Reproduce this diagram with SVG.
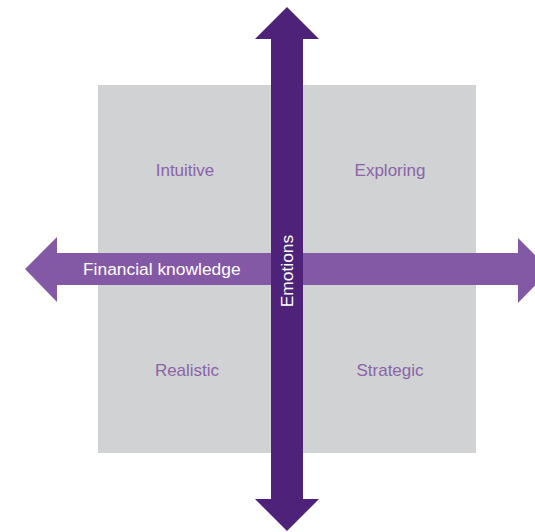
<svg xmlns="http://www.w3.org/2000/svg" width="535" height="532" viewBox="0 0 535 532">
<style>
.q{font-family:"Liberation Sans",Arial,sans-serif;font-size:17px;fill:#8a64a8;text-anchor:middle}
.w{font-family:"Liberation Sans",Arial,sans-serif;font-size:17.4px;fill:#ffffff}
</style>
<rect width="535" height="532" fill="#ffffff"/>
<g id="grid"><rect x="98" y="85" width="378" height="368" fill="#d1d2d4"/></g>
<g id="q-intuitive"><text class="q" x="185" y="176">Intuitive</text></g>
<g id="q-exploring"><text class="q" x="390" y="176">Exploring</text></g>
<g id="q-realistic"><text class="q" x="187" y="376">Realistic</text></g>
<g id="q-strategic"><text class="q" x="390" y="376">Strategic</text></g>
<g id="connectors">
<polygon id="h-axis" fill="#8358a5" points="25,269 57,237 57,253 518,253 518,238 550,270 518,303 518,285 57,285 57,302"/>
<polygon id="v-axis" fill="#4d2278" points="287,7 319,39 303,39 303,499 319,499 287,531 255,499 271,499 271,39 255,39"/>
</g>
<g id="label-financial"><text class="w" x="83" y="275">Financial knowledge</text></g>
<g id="label-emotions"><text class="w" transform="translate(293,271) rotate(-90)" text-anchor="middle">Emotions</text></g>
</svg>
